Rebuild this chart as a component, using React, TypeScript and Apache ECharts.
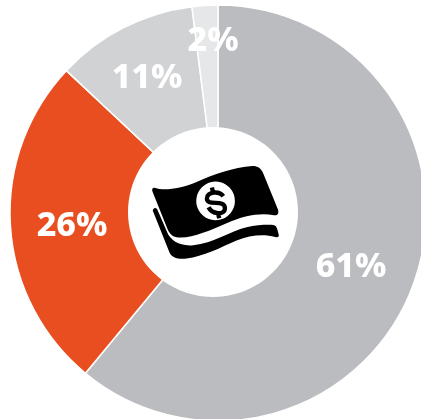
import React, { useEffect, useRef } from "react";
import * as echarts from "echarts";

const categories = ["A", "B", "C", "D"];
const shares = [61, 26, 11, 2];
const colors = ["#BBBCBF", "#E84E20", "#D1D2D4", "#E6E7E8"];
const labelSpots = [
  [351, 264],
  [72, 223],
  [147, 75],
  [213, 38],
];

const BILL =
  "M76 174 C100 182 150 178 200 156 C250 134 310 112 368 108 C384 108 394 116 399 128 L444 238 C448 250 444 258 432 256 C390 248 340 258 290 280 C240 302 180 328 140 322 C125 320 118 310 112 296 L68 186 C64 178 68 172 76 174 Z";
const UNDER =
  "M70 238 C74 232 80 234 83 241 L112 308 C122 332 150 350 190 346 C250 340 300 304 350 292 C380 285 410 284 430 285 C438 286 441 292 443 300 L447 316 C447 322 442 323 436 321 C400 312 360 316 320 332 C270 354 220 380 170 386 C145 389 125 384 118 366 L70 246 C68 242 68 240 70 238 Z";
const DOLLAR =
  "M280 199 C270 183 231 183 231 206 C231 232 285 205 285 235 C285 258 245 252 236 232 M246 173 L250 190 M264 250 L268 265";

echarts.graphic.registerShape("bill", echarts.graphic.extendPath(BILL, {}) as any);
echarts.graphic.registerShape("billUnder", echarts.graphic.extendPath(UNDER, {}) as any);
echarts.graphic.registerShape("dollarSign", echarts.graphic.extendPath(DOLLAR, {}) as any);

export default function App() {
  const ref = useRef<HTMLDivElement>(null);
  useEffect(() => {
    const chart = echarts.init(ref.current!, undefined, { renderer: "svg" });
    chart.setOption({
      animation: false,
      series: [
        {
          type: "pie",
          center: [218, 213],
          radius: [0, 208],
          startAngle: 90,
          clockwise: true,
          silent: true,
          itemStyle: { borderColor: "#fff", borderWidth: 1.5 },
          label: {
            position: "inside",
            formatter: "{c}%",
            color: "#fff",
            fontFamily: "Noto Sans",
            fontWeight: 800,
            fontSize: 34,
          },
          labelLine: { show: false },
          labelLayout: (p: any) => ({
            x: labelSpots[p.dataIndex][0],
            y: labelSpots[p.dataIndex][1],
            align: "center",
            verticalAlign: "middle",
          }),
          data: shares.map((value, i) => ({
            name: categories[i],
            value,
            itemStyle: { color: colors[i] },
          })),
        },
      ],
      graphic: [
        { type: "circle", shape: { cx: 213, cy: 212, r: 85 }, style: { fill: "#fff" }, z: 10 },
        {
          type: "group",
          x: 130,
          y: 130,
          scaleX: 1 / 3,
          scaleY: 1 / 3,
          z: 11,
          children: [
            { type: "bill", style: { fill: "#000" }, z: 11 },
            { type: "billUnder", style: { fill: "#000" }, z: 11 },
            { type: "circle", shape: { cx: 257, cy: 213, r: 58 }, style: { fill: "#fff" }, z: 12 },
            {
              type: "dollarSign",
              style: { fill: "none", stroke: "#000", lineWidth: 13 },
              z: 13,
            },
          ],
        },
      ],
    });
    return () => chart.dispose();
  }, []);
  return <div ref={ref} style={{ position: "fixed", left: 0, top: 0, width: 421, height: 419 }} />;
}
